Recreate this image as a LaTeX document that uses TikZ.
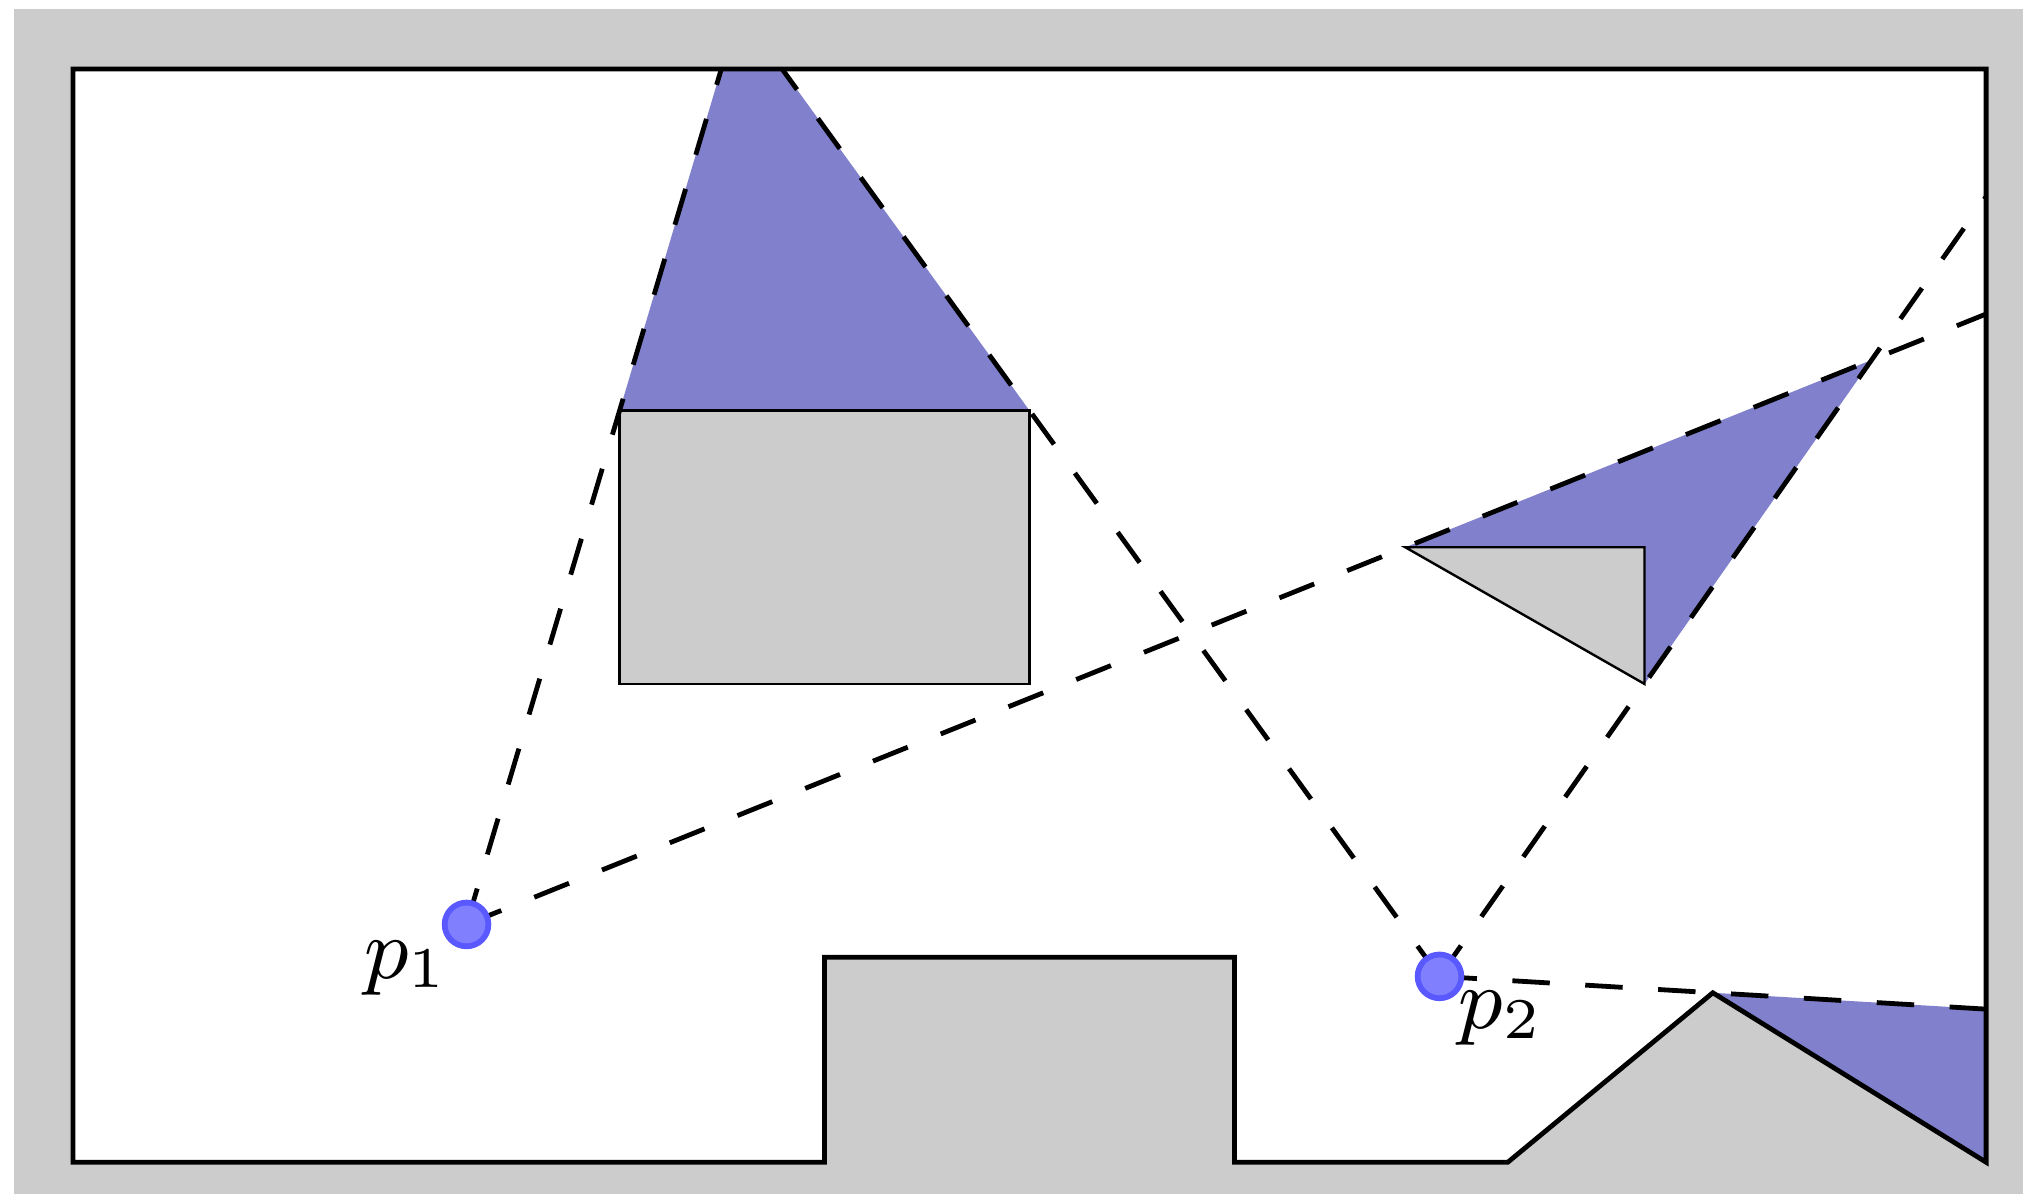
\documentclass[tikz,border=0pt]{standalone}
\usepackage{tikz}
\usetikzlibrary{calc}
\definecolor{shadow}{RGB}{128,128,204}
\tikzset{
  wall/.style={line width=0.5pt},
  obstacle/.style={fill=gray!40,draw=black,line width=0.25pt},
  ray/.style={dash pattern=on 3.9pt off 3.7pt,line width=0.5pt},
  viewpt/.style={circle,fill=blue!50,draw=blue!65,line width=0.6pt,inner sep=0pt,minimum size=0.16cm},
}
\begin{document}
\begin{tikzpicture}[font=\small]
\useasboundingbox (-0.267,-0.117) rectangle (7.135,4.2525);
\fill[gray!40] (-0.216,-0.117) rectangle (7.135,4.2195);

% room corners
\coordinate (tl) at (0,4);
\coordinate (tr) at (7,4);
\coordinate (br) at (7,0);
\coordinate (pk) at (6,0.62);
% obstacles
\coordinate (r1) at (2,2.75);
\coordinate (r2) at (3.5,2.75);
\coordinate (t1) at (4.875,2.25);
\coordinate (t2) at (5.75,2.25);
\coordinate (t3) at (5.75,1.75);
% viewpoints
\coordinate (v1) at (1.44,0.87);
\coordinate (v2) at (5,0.68);

\fill[white] (0,0) -- (2.75,0) -- (2.75,0.75) -- (4.25,0.75) -- (4.25,0)
  -- (5.25,0) -- (pk) -- (br) -- (tr) -- (tl) -- cycle;

% where the rays stop
\coordinate (e1) at (intersection of v1--r1 and tl--tr);
\coordinate (e2) at (intersection of v1--t1 and br--tr);
\coordinate (e3) at (intersection of v2--r2 and tl--tr);
\coordinate (e4) at (intersection of v2--t3 and br--tr);
\coordinate (e5) at (intersection of v2--pk and br--tr);
\coordinate (xx) at (intersection of v1--t1 and v2--t3);

\fill[shadow] (r1) -- (e1) -- (e3) -- (r2) -- cycle;
\fill[shadow] (t1) -- (xx) -- (t3) -- (t2) -- cycle;
\fill[shadow] (pk) -- (e5) -- (br) -- cycle;

\draw[obstacle] (r1) rectangle (3.5,1.75);
\draw[obstacle] (t1) -- (t2) -- (t3) -- cycle;

\draw[ray] (v1) -- (e1);
\draw[ray] (v1) -- (e2);
\draw[ray] (v2) -- (e3);
\draw[ray] (v2) -- (e4);
\draw[ray] (v2) -- (e5);

\draw[wall] (0,0) -- (2.75,0) -- (2.75,0.75) -- (4.25,0.75) -- (4.25,0)
  -- (5.25,0) -- (pk) -- (br) -- (tr) -- (tl) -- cycle;

\node[viewpt] (p1) at (v1) {};
\node[viewpt] (p2) at (v2) {};
\node (l1) at (1.22,0.71) {$p_1$};
\node (l2) at (5.225,0.525) {$p_2$};
\end{tikzpicture}
\end{document}
